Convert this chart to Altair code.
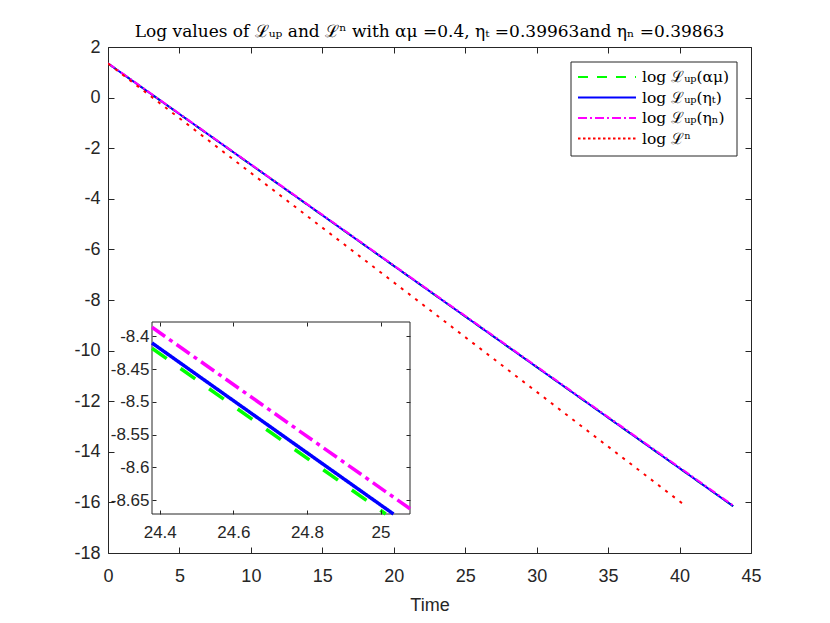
import altair as alt
import pandas as pd

# ---------------- data ----------------
series_names = ["log ℒᵤₚ(αμ)", "log ℒᵤₚ(ηₜ)", "log ℒᵤₚ(ηₙ)", "log ℒⁿ"]
series_colors = ["#00ff00", "#0000ff", "#ff00ff", "#ff0000"]

main_time_green = [0.0, 43.75]
main_log_green = [1.35, -16.15]
main_time_blue = [0.0, 43.75]
main_log_blue = [1.35, -16.15]
main_time_magenta = [0.0, 43.8]
main_log_magenta = [1.36, -16.14]
main_time_red = [0.0, 40.4]
main_log_red = [1.35, -16.13]

# inset (zoom near t = 24.4 .. 25.08)
inset_time_green = [24.379, 25.014]
inset_log_green = [-8.418, -8.671]
inset_time_blue = [24.379, 25.035]
inset_log_blue = [-8.410, -8.671]
inset_time_magenta = [24.379, 25.08]
inset_log_magenta = [-8.386, -8.663]

main_x_ticks = [0, 5, 10, 15, 20, 25, 30, 35, 40, 45]
main_y_ticks = [-18, -16, -14, -12, -10, -8, -6, -4, -2, 0, 2]
main_x_domain = [0, 45]
main_y_domain = [-18, 2]
inset_x_ticks = [24.4, 24.6, 24.8, 25.0]
inset_y_ticks = [-8.65, -8.6, -8.55, -8.5, -8.45, -8.4]
inset_x_domain = [24.379, 25.08]
inset_y_domain = [-8.671, -8.378]

title_text = "Log values of ℒᵤₚ and ℒⁿ with αμ =0.4, ηₜ =0.39963and ηₙ =0.39863"

# ---------------- styling ----------------
main_dashes = [[10, 8], [1, 0], [8, 3, 2, 3], [3, 6]]
main_widths = [2, 2, 2, 1.5]
inset_dashes = [[18, 17], [1, 0], [16, 5, 4, 5]]
legend_dashes = [[10, 9], [1, 0], [9, 3, 2, 3], [2.5, 2.5]]

W, H = 643, 506
INSET_XR = [44, 302]
INSET_YR = [467, 275]
AX = "#262626"
SANS = "Liberation Sans"
SERIF = "DejaVu Serif"
MINUS = "replace(datum.label, '\u2212', '-')"

def long_df(names, times, logs):
    rows = []
    for n, ts, vs in zip(names, times, logs):
        for t, v in zip(ts, vs):
            rows.append({"series": n, "t": t, "v": v})
    return pd.DataFrame(rows)

main_df = long_df(series_names,
                  [main_time_green, main_time_blue, main_time_magenta, main_time_red],
                  [main_log_green, main_log_blue, main_log_magenta, main_log_red])
inset_df = long_df(series_names[:3],
                   [inset_time_green, inset_time_blue, inset_time_magenta],
                   [inset_log_green, inset_log_blue, inset_log_magenta])
legend_df = pd.DataFrame({"series": series_names})
one_row = pd.DataFrame({"k": [0]})

color = alt.Color("series:N", scale=alt.Scale(domain=series_names, range=series_colors), legend=None)


def tick_axis(orient, values, offset, size):
    return alt.Axis(orient=orient, values=values, offset=offset, tickSize=size, ticks=True,
                    domain=False, labels=False, grid=False, title=None, tickColor=AX,
                    tickWidth=1, zindex=1)


# ---------------- main panel ----------------
xs_main = alt.Scale(domain=main_x_domain, nice=False, zero=False)
ys_main = alt.Scale(domain=main_y_domain, nice=False, zero=False)

main_lines = alt.Chart(main_df).mark_line(clip=True).encode(
    x=alt.X("t:Q", scale=xs_main,
            axis=alt.Axis(orient="bottom", values=main_x_ticks, domain=False, ticks=False,
                          tickSize=0, grid=False, labelFont=SANS, labelFontSize=18,
                          labelColor=AX, labelPadding=14, labelExpr=MINUS, labelFlush=False,
                          title="Time", titleFont=SANS, titleFontSize=18,
                          titleFontWeight="normal", titleColor=AX, titlePadding=11)),
    y=alt.Y("v:Q", scale=ys_main,
            axis=alt.Axis(orient="left", values=main_y_ticks, domain=False, ticks=False,
                          tickSize=0, grid=False, labelFont=SANS, labelFontSize=18,
                          labelColor=AX, labelPadding=8, labelExpr=MINUS, labelFlush=False,
                          title=None)),
    color=color,
    strokeDash=alt.StrokeDash("series:N", scale=alt.Scale(domain=series_names, range=main_dashes), legend=None),
    strokeWidth=alt.StrokeWidth("series:N", scale=alt.Scale(domain=series_names, range=main_widths), legend=None),
)

main_ticks_bl = alt.Chart(main_df).mark_point(opacity=0).encode(
    x=alt.X("t:Q", scale=xs_main, axis=tick_axis("bottom", main_x_ticks, -6, 6)),
    y=alt.Y("v:Q", scale=ys_main, axis=tick_axis("left", main_y_ticks, -6, 6)),
)
main_ticks_tr = alt.Chart(main_df).mark_point(opacity=0).encode(
    x=alt.X("t:Q", scale=xs_main, axis=tick_axis("top", main_x_ticks, -6, 6)),
    y=alt.Y("v:Q", scale=ys_main, axis=tick_axis("right", main_y_ticks, -6, 6)),
)
main = alt.layer(main_lines, main_ticks_bl, main_ticks_tr).resolve_axis(x="independent", y="independent")

# ---------------- inset ----------------
xs_in = alt.Scale(domain=inset_x_domain, range=INSET_XR, nice=False, zero=False)
ys_in = alt.Scale(domain=inset_y_domain, range=INSET_YR, nice=False, zero=False)

inset_frame = alt.Chart(one_row).mark_rect(fill="white", stroke=AX, strokeWidth=1).encode(
    x=alt.value(INSET_XR[0]), x2=alt.value(INSET_XR[1]),
    y=alt.value(INSET_YR[1]), y2=alt.value(INSET_YR[0]),
)
inset_lines = alt.Chart(inset_df).mark_line(strokeWidth=3.5).encode(
    x=alt.X("t:Q", scale=xs_in,
            axis=alt.Axis(orient="bottom", offset=-(H - INSET_YR[0]), values=inset_x_ticks,
                          format=".4~g", domain=False, ticks=False, tickSize=0, grid=False,
                          labelFont=SANS, labelFontSize=17, labelColor=AX, labelPadding=10,
                          labelExpr=MINUS, labelFlush=False, title=None, zindex=1)),
    y=alt.Y("v:Q", scale=ys_in,
            axis=alt.Axis(orient="left", offset=-INSET_XR[0], values=inset_y_ticks,
                          format=".4~g", domain=False, ticks=False, tickSize=0, grid=False,
                          labelFont=SANS, labelFontSize=17, labelColor=AX, labelPadding=3,
                          labelExpr=MINUS, labelFlush=False, title=None, zindex=1)),
    color=color,
    strokeDash=alt.StrokeDash("series:N", scale=alt.Scale(domain=series_names[:3], range=inset_dashes), legend=None),
)
inset_ticks_bl = alt.Chart(inset_df).mark_point(opacity=0).encode(
    x=alt.X("t:Q", scale=xs_in, axis=tick_axis("bottom", inset_x_ticks, -(H - INSET_YR[0]) - 4, 4)),
    y=alt.Y("v:Q", scale=ys_in, axis=tick_axis("left", inset_y_ticks, -INSET_XR[0] - 4, 4)),
)
inset_ticks_tr = alt.Chart(inset_df).mark_point(opacity=0).encode(
    x=alt.X("t:Q", scale=xs_in, axis=tick_axis("top", inset_x_ticks, -INSET_YR[1] - 4, 4)),
    y=alt.Y("v:Q", scale=ys_in, axis=tick_axis("right", inset_y_ticks, -(W - INSET_XR[1]) - 4, 4)),
)
inset = alt.layer(inset_frame, inset_lines, inset_ticks_bl, inset_ticks_tr).resolve_axis(
    x="independent", y="independent")

# ---------------- legend (box top-right) ----------------
# band scale: row centres at 30, 50.5, 71, 91.5 px
leg_y = alt.Y("series:N",
              scale=alt.Scale(domain=series_names, range=[19.75, 101.75], paddingInner=0, paddingOuter=0),
              axis=None)
legend_frame = alt.Chart(one_row).mark_rect(fill="white", stroke=AX, strokeWidth=1).encode(
    x=alt.value(463), x2=alt.value(629), y=alt.value(15), y2=alt.value(109),
)
legend_rules = alt.Chart(legend_df).mark_rule(strokeWidth=2).encode(
    x=alt.value(470), x2=alt.value(528), y=leg_y, color=color,
    strokeDash=alt.StrokeDash("series:N", scale=alt.Scale(domain=series_names, range=legend_dashes), legend=None),
)
legend_text = alt.Chart(legend_df).mark_text(align="left", baseline="middle", font=SERIF,
                                             fontSize=15.5, color="black").encode(
    x=alt.value(534), y=leg_y, text="series:N",
)
legend = alt.layer(legend_frame, legend_rules, legend_text)

chart = alt.layer(main, inset, legend).resolve_scale(
    x="independent", y="independent", strokeDash="independent", strokeWidth="independent"
).properties(
    width=W, height=H,
    title=alt.TitleParams(title_text, font=SERIF, fontSize=17, fontWeight="normal",
                          color="black", anchor="middle", offset=-3),
    autosize=alt.AutoSizeParams(type="none"),
    padding={"left": 100, "top": 39, "right": 71, "bottom": 62},
    background="white",
).configure_view(stroke=AX, strokeWidth=1)

chart.save("out.html", embed_options={"renderer": "svg", "actions": False})
